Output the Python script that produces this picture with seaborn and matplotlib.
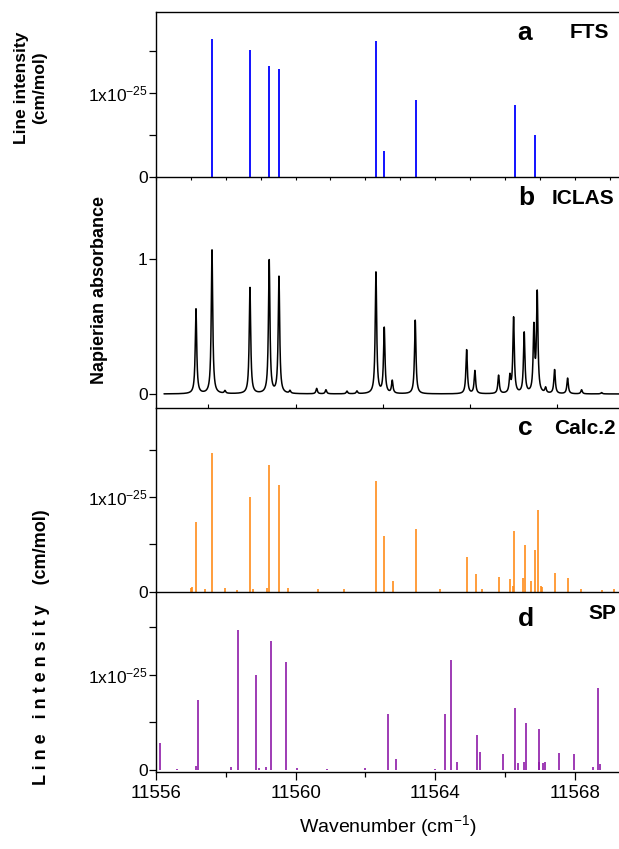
import numpy as np
import pandas as pd
import matplotlib
matplotlib.use('Agg')
import matplotlib.pyplot as plt
from matplotlib.ticker import MultipleLocator, FixedLocator
import seaborn as sns

# a) FTS line list: position (cm-1), intensity (1e-25 cm/mol)
fts_pos = [11557.60, 11558.69, 11559.25, 11559.52, 11562.30, 11562.54, 11563.44, 11566.28, 11566.85]
fts_int = [1.646, 1.508, 1.318, 1.290, 1.619, 0.310, 0.913, 0.857, 0.504]

# b) ICLAS spectrum: peak centres and peak absorbance
iclas_pos = [11557.146, 11557.605, 11557.977, 11558.693, 11559.244, 11559.524, 11559.840,
             11560.605, 11560.871, 11561.473, 11561.759, 11562.304, 11562.542, 11562.771,
             11563.430, 11564.903, 11565.140, 11565.819, 11566.143, 11566.249, 11566.553,
             11566.831, 11566.926, 11567.166, 11567.424, 11567.797, 11568.198, 11568.771]
iclas_abs = [0.629, 1.069, 0.02, 0.789, 0.995, 0.871, 0.02,
             0.04, 0.03, 0.02, 0.02, 0.906, 0.485, 0.094,
             0.547, 0.327, 0.171, 0.136, 0.12, 0.562, 0.45,
             0.48, 0.737, 0.04, 0.178, 0.116, 0.03, 0.01]
iclas_start = 11556.23
iclas_hwhm = 0.025

# c) Calc.2 line list
calc_pos = [11556.994, 11557.023, 11557.146, 11557.395, 11557.605, 11557.968, 11558.312,
            11558.693, 11558.771, 11559.172, 11559.246, 11559.533, 11559.791, 11560.650,
            11561.387, 11562.304, 11562.542, 11562.791, 11563.441, 11564.138, 11564.911,
            11565.160, 11565.341, 11565.828, 11566.152, 11566.238, 11566.266, 11566.516,
            11566.573, 11566.745, 11566.851, 11566.946, 11567.040, 11567.069, 11567.424,
            11567.814, 11568.178, 11568.788, 11569.132]
calc_int = [0.035, 0.05, 0.732, 0.03, 1.471, 0.035, 0.02,
            1.006, 0.03, 0.04, 1.341, 1.130, 0.035, 0.03,
            0.03, 1.168, 0.587, 0.109, 0.658, 0.025, 0.362,
            0.186, 0.03, 0.154, 0.130, 0.06, 0.644, 0.14,
            0.492, 0.11, 0.436, 0.869, 0.06, 0.05, 0.196,
            0.144, 0.03, 0.02, 0.03]

# d) SP line list
sp_pos = [11556.115, 11556.593, 11557.146, 11557.212, 11558.149, 11558.341, 11558.865,
          11558.960, 11559.143, 11559.287, 11559.725, 11560.049, 11560.891, 11561.989,
          11562.639, 11562.868, 11563.994, 11564.281, 11564.453, 11564.625, 11565.189,
          11565.275, 11565.934, 11566.287, 11566.381, 11566.553, 11566.593, 11566.966,
          11566.983, 11567.080, 11567.146, 11567.539, 11567.977, 11568.530, 11568.673,
          11568.731]
sp_int = [0.28, 0.015, 0.04, 0.735, 0.03, 1.467, 1.001,
          0.02, 0.03, 1.352, 1.134, 0.02, 0.015, 0.02,
          0.588, 0.116, 0.01, 0.588, 1.155, 0.084, 0.368,
          0.186, 0.168, 0.648, 0.07, 0.09, 0.494, 0.434,
          0.09, 0.07, 0.09, 0.182, 0.168, 0.03, 0.861,
          0.06]

x_min, x_max = 11556.0, 11569.27

sns.set_theme(style='ticks')
plt.rcParams['font.family'] = ['Liberation Sans', 'DejaVu Sans']
plt.rcParams['mathtext.default'] = 'regular'
plt.rcParams['axes.linewidth'] = 1.0
for key in ('text.color', 'axes.labelcolor', 'xtick.color', 'ytick.color', 'axes.edgecolor'):
    plt.rcParams[key] = 'black'

fig = plt.figure(figsize=(6.19, 8.49), dpi=100)
left, width = 156 / 619, 1 - 156 / 619
# (top, bottom) of each panel in pixels
panels = [(12, 177), (177, 408), (408, 592), (592, 772)]
axes = []
for top, bot in panels:
    ax = fig.add_axes([left, 1 - bot / 849, width, (bot - top) / 849])
    ax.set_facecolor('none')
    axes.append(ax)
ax_a, ax_b, ax_c, ax_d = axes

# profile of the ICLAS trace built from its peak list
grid = np.arange(iclas_start, x_max + 0.01, 0.004)
trace = np.zeros_like(grid)
for p, h in zip(iclas_pos, iclas_abs):
    trace += h / (1 + ((grid - p) / iclas_hwhm) ** 2)
iclas_df = pd.DataFrame({'wn': grid, 'absorbance': trace})

# sticks
ax_a.vlines(fts_pos, 0, fts_int, color='#0000FF', lw=1.3)
sns.lineplot(data=iclas_df, x='wn', y='absorbance', ax=ax_b, color='black', lw=1.1)
ax_c.vlines(calc_pos, 0, calc_int, color='#FF8C1A', lw=1.2)
ax_d.vlines(sp_pos, 0, sp_int, color='#8E1AA8', lw=1.2)

ax_a.set_ylim(0, 1.964)
ax_b.set_ylim(-0.104, 1.611)
ax_c.set_ylim(-0.005, 1.946)
ax_d.set_ylim(-0.02, 1.87)

sci = '1x10$^{-25}$'
for ax in (ax_a, ax_c, ax_d):
    ax.yaxis.set_major_locator(FixedLocator([0, 0.5, 1.0, 1.5]))
    ax.set_yticklabels(['0', '', sci, ''])
ax_b.yaxis.set_major_locator(FixedLocator([0, 1]))
ax_b.set_yticklabels(['0', '1'])

for ax in axes:
    ax.set_xlim(x_min, x_max)
    ax.set_xlabel('')
    ax.set_ylabel('')
    ax.spines['right'].set_visible(False)
    ax.spines['top'].set_visible(False)
    ax.tick_params(axis='y', direction='out', length=5, width=0.9,
                   labelsize=12.5, pad=1)
ax_a.spines['top'].set_visible(True)

# x ticks
ax_a.xaxis.set_major_locator(MultipleLocator(1))
ax_a.tick_params(axis='x', direction='out', length=2, width=0.8, labelbottom=False)
ax_b.xaxis.set_major_locator(MultipleLocator(2.5))
ax_b.tick_params(axis='x', direction='in', length=3, width=0.8, labelbottom=False)
ax_c.tick_params(axis='x', length=0, labelbottom=False)
ax_d.xaxis.set_major_locator(MultipleLocator(4))
ax_d.xaxis.set_minor_locator(MultipleLocator(2))
ax_d.tick_params(axis='x', which='major', direction='out', length=6, width=0.9,
                 labelsize=13.5, pad=3)
ax_d.tick_params(axis='x', which='minor', direction='out', length=3.5, width=0.9)
ax_d.set_xlabel('Wavenumber (cm$^{-1}$)', fontsize=14, labelpad=8)

# panel tags
tags = [(ax_a, 'a', 0.797, 0.873, 'FTS', 0.937, 0.873),
        (ax_b, 'b', 0.799, 0.909, 'ICLAS', 0.922, 0.909),
        (ax_c, 'c', 0.797, 0.891, 'Calc.2', 0.927, 0.891),
        (ax_d, 'd', 0.798, 0.85, 'SP', 0.965, 0.883)]
for ax, letter, lx, ly, name, nx, ny in tags:
    ax.text(lx, ly, letter, transform=ax.transAxes, fontsize=19, fontweight='bold',
            ha='center', va='center')
    ax.text(nx, ny, name, transform=ax.transAxes, fontsize=15, fontweight='bold',
            ha='center', va='center')

narrow = ['Liberation Sans Narrow', 'Liberation Sans', 'DejaVu Sans']
fig.text(31 / 619, 1 - 88 / 849, 'Line intensity\n(cm/mol)', rotation=90,
         ha='center', va='center', fontsize=12.5, fontweight='bold', family=narrow,
         linespacing=1.25)
fig.text(100 / 619, 1 - 290 / 849, 'Napierian absorbance', rotation=90,
         ha='center', va='center', fontsize=13, fontweight='bold', family=narrow)
fig.text(42 / 619, 1 - 785 / 849, 'L i n e   i n t e n s i t y    (cm/mol)', rotation=90,
         ha='center', va='bottom', fontsize=13, fontweight='bold')

fig.savefig('out.png', dpi=100)
